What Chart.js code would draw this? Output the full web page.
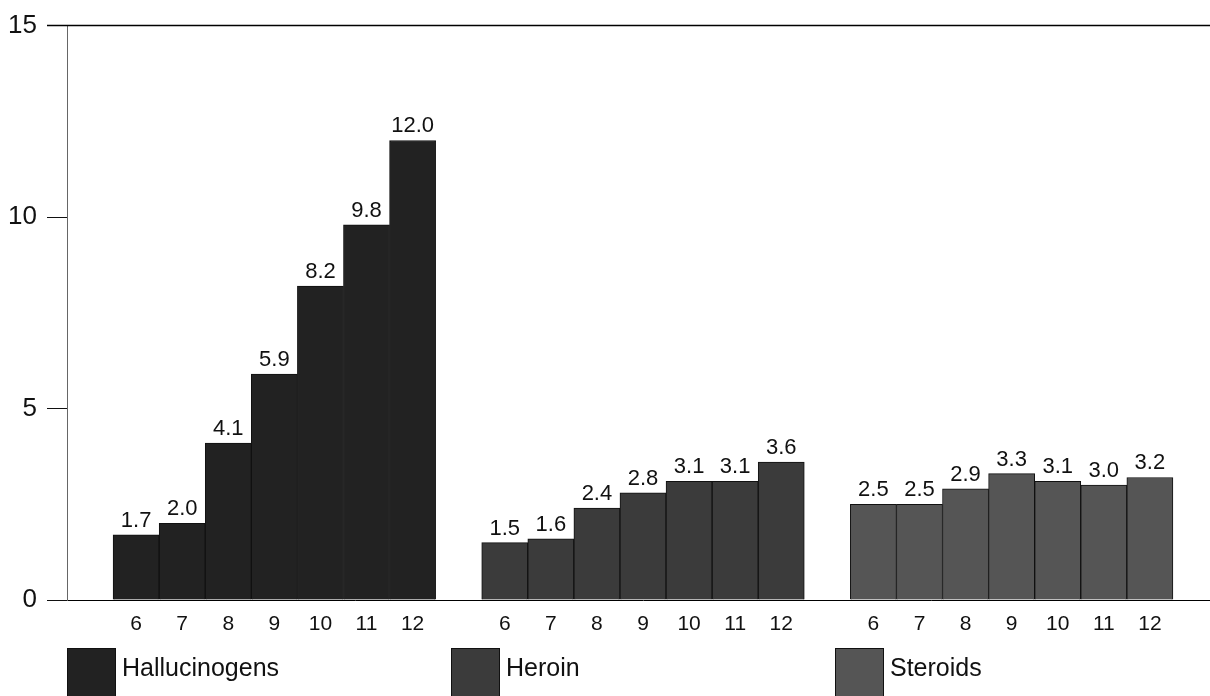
<!DOCTYPE html>
<html>
<head>
<meta charset="utf-8">
<script src="https://cdn.jsdelivr.net/npm/chart.js@4"></script>
<style>
  html, body { margin: 0; padding: 0; background: #fff; overflow: hidden; }
  #wrap { width: 1219px; height: 696px; }
</style>
</head>
<body>
<div id="wrap"><canvas id="chart" width="1219" height="696"></canvas></div>
<script>
// grades shown under each group of bars
var grades = ['6', '7', '8', '9', '10', '11', '12'];
var drugs = ['Hallucinogens', 'Heroin', 'Steroids'];
var hallucinogens = [1.7, 2.0, 4.1, 5.9, 8.2, 9.8, 12.0];
var heroin = [1.5, 1.6, 2.4, 2.8, 3.1, 3.1, 3.6];
var steroids = [2.5, 2.5, 2.9, 3.3, 3.1, 3.0, 3.2];
var yTicks = [0, 5, 10, 15];
var colors = ['#222222', '#3b3b3b', '#555555'];

var FONT = '"Liberation Sans", Arial, sans-serif';

// one empty slot before, between and after the groups
var series = [hallucinogens, heroin, steroids];
var labels = [''];
series.forEach(function () {
    labels = labels.concat(grades, ['']);
});

function padSeries(values, groupIndex) {
    var out = [];
    for (var i = 0; i < labels.length; i++) out.push(null);
    var start = 1 + groupIndex * (grades.length + 1);
    for (var j = 0; j < values.length; j++) out[start + j] = values[j];
    return out;
}

var datasets = series.map(function (values, i) {
    return {
        label: drugs[i],
        data: padSeries(values, i),
        backgroundColor: colors[i],
        borderColor: '#111',
        borderWidth: 1,
        categoryPercentage: 1,
        barPercentage: 1,
        grouped: false
    };
});

var valueLabels = {
    id: 'valueLabels',
    afterDatasetsDraw: function (chart) {
        var ctx = chart.ctx;
        ctx.save();
        ctx.font = '22px ' + FONT;
        ctx.fillStyle = '#111';
        ctx.textAlign = 'center';
        ctx.textBaseline = 'alphabetic';
        chart.data.datasets.forEach(function (ds, di) {
            var meta = chart.getDatasetMeta(di);
            meta.data.forEach(function (bar, i) {
                var v = ds.data[i];
                if (v === null) return;
                ctx.fillText(v.toFixed(1), bar.x, bar.y - 8);
            });
        });
        ctx.restore();
    }
};

var frame = {
    id: 'frame',
    afterDraw: function (chart) {
        var ctx = chart.ctx;
        var area = chart.chartArea;
        ctx.save();
        ctx.strokeStyle = '#000';
        ctx.lineWidth = 1.5;
        ctx.beginPath();
        ctx.moveTo(area.left - 20, area.top);
        ctx.lineTo(chart.width, area.top);
        ctx.stroke();
        ctx.restore();
    }
};

var boxLegend = {
    id: 'boxLegend',
    afterDraw: function (chart) {
        var ctx = chart.ctx;
        var area = chart.chartArea;
        var step = (area.right - area.left) / chart.data.datasets.length;
        ctx.save();
        ctx.font = '25px ' + FONT;
        ctx.textBaseline = 'middle';
        ctx.textAlign = 'left';
        chart.data.datasets.forEach(function (ds, i) {
            var x = Math.round(area.left + i * step);
            ctx.fillStyle = ds.backgroundColor;
            ctx.fillRect(x, 648, 49, 49);
            ctx.strokeStyle = '#111';
            ctx.lineWidth = 1;
            ctx.strokeRect(x + 0.5, 648.5, 48, 48);
            ctx.fillStyle = '#111';
            ctx.fillText(ds.label, x + 55, 669);
        });
        ctx.restore();
    }
};

var ctx = document.getElementById('chart').getContext('2d');
var chart = new Chart(ctx, {
    type: 'bar',
    data: { labels: labels, datasets: datasets },
    options: {
        responsive: false,
        animation: false,
        layout: { padding: { top: 24, left: 0, right: 0, bottom: 0 } },
        plugins: {
            legend: { display: false },
            tooltip: { enabled: false },
            title: { display: false }
        },
        scales: {
            x: {
                grid: { display: false },
                border: { display: true, color: '#000', width: 1 },
                ticks: {
                    color: '#111',
                    font: { family: FONT, size: 21 },
                    padding: 4,
                    maxRotation: 0,
                    autoSkip: false
                },
                afterFit: function (scale) { scale.height = 96; }
            },
            y: {
                min: 0,
                max: 15,
                afterBuildTicks: function (scale) {
                    scale.ticks = yTicks.map(function (v) { return { value: v }; });
                },
                grid: {
                    display: true,
                    drawOnChartArea: false,
                    drawTicks: true,
                    tickLength: 20,
                    color: '#111'
                },
                border: { display: true, color: '#666', width: 1 },
                ticks: {
                    color: '#111',
                    font: { family: FONT, size: 26 },
                    padding: 10
                },
                afterFit: function (scale) { scale.width = 67; }
            }
        }
    },
    plugins: [valueLabels, frame, boxLegend]
});
</script>
</body>
</html>
